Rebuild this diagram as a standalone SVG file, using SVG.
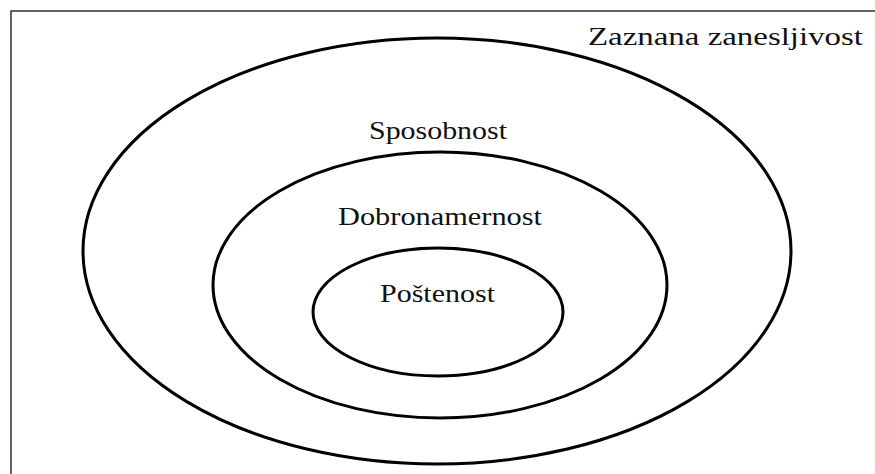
<svg xmlns="http://www.w3.org/2000/svg" width="875" height="474" viewBox="0 0 875 474">
<style>
.ring{fill:none;stroke:#000;stroke-width:3}
.lbl{font-family:"Liberation Serif","Times New Roman",serif;font-size:26px;fill:#111}
.frame{fill:none;stroke:#333;stroke-width:1.5}
</style>
<rect width="875" height="474" fill="#fff"/>
<g id="zaznana-zanesljivost">
<path class="frame" d="M11,480 V11 H880"/>
<text class="lbl" x="588" y="45" textLength="275" lengthAdjust="spacingAndGlyphs">Zaznana zanesljivost</text>
</g>
<g id="sposobnost">
<ellipse class="ring" cx="437" cy="251" rx="354" ry="213"/>
<text class="lbl" x="369" y="139" textLength="138" lengthAdjust="spacingAndGlyphs">Sposobnost</text>
</g>
<g id="dobronamernost">
<ellipse class="ring" cx="440" cy="285" rx="227" ry="133"/>
<text class="lbl" x="338" y="225" textLength="204" lengthAdjust="spacingAndGlyphs">Dobronamernost</text>
</g>
<g id="postenost">
<ellipse class="ring" cx="438" cy="312" rx="125" ry="64"/>
<text class="lbl" x="380" y="302" textLength="115" lengthAdjust="spacingAndGlyphs">Poštenost</text>
</g>
</svg>
